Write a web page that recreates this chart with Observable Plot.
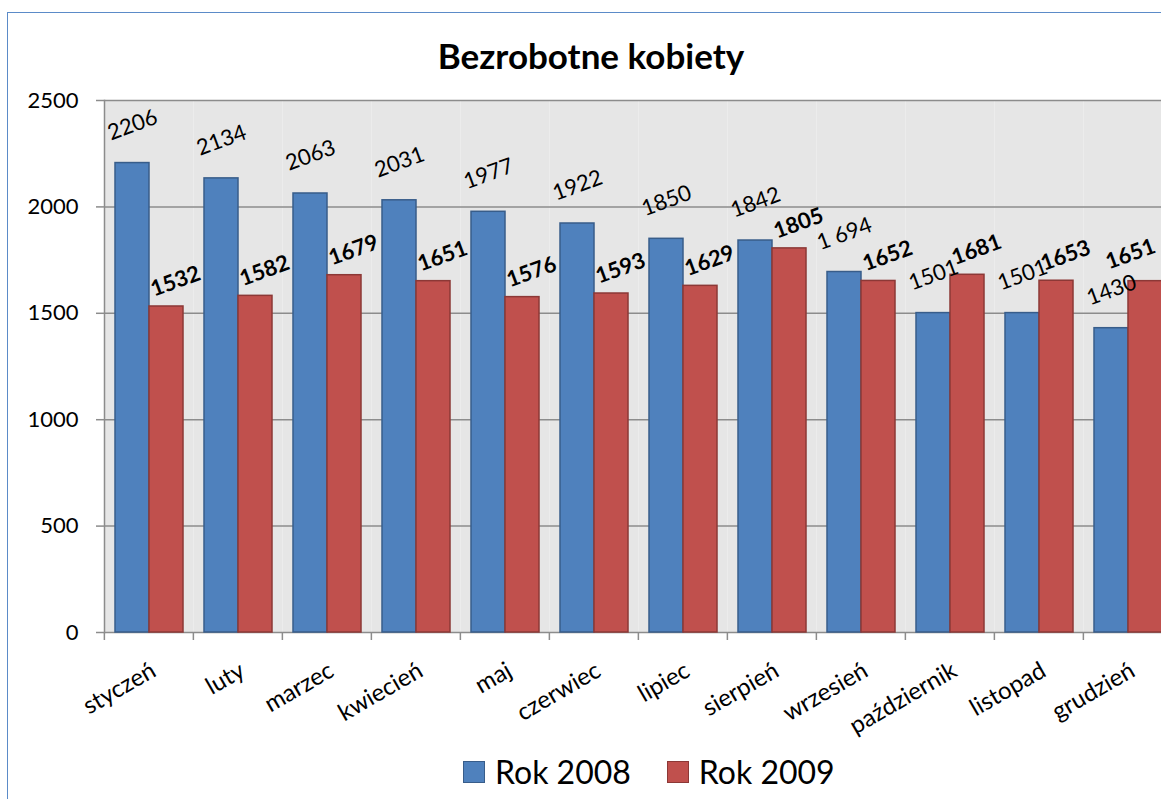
<!DOCTYPE html>
<html>
<head>
<meta charset="utf-8">
<script src="https://cdn.jsdelivr.net/npm/d3@7"></script>
<script src="https://cdn.jsdelivr.net/npm/@observablehq/plot@0.6"></script>
<style>
  html, body { margin: 0; padding: 0; overflow: hidden; background: #fff; width: 1161px; height: 799px; }
  #wrap { position: relative; width: 1161px; height: 799px; font-family: Lato, sans-serif; overflow: hidden; }
  #border { position: absolute; left: 7px; top: 12px; width: 1300px; height: 900px; border: 1px solid #5b8bc8; box-sizing: border-box; }
  #chart { position: absolute; left: 0; top: 0; width: 1200px; }
  #chart svg { max-width: none !important; }
  #title { position: absolute; left: 0; width: 1182px; top: 34px; text-align: center; font-weight: bold; font-size: 35px; color: #000; }
  #legend { position: absolute; left: 463px; top: 752px; display: flex; align-items: center; font-size: 32px; color: #000; }
  .sw { width: 22px; height: 22px; box-sizing: border-box; margin-right: 10px; }
  .item { display: flex; align-items: center; margin-right: 36px; }
</style>
</head>
<body>
<div id="wrap">
  <div id="border"></div>
  <div id="chart"></div>
  <div id="title">Bezrobotne kobiety</div>
  <div id="legend"></div>
</div>
<script>
const months = ["styczeń","luty","marzec","kwiecień","maj","czerwiec","lipiec","sierpień","wrzesień","październik","listopad","grudzień"];
const series = ["Rok 2008", "Rok 2009"];
const values2008 = [2206, 2134, 2063, 2031, 1977, 1922, 1850, 1842, 1694, 1501, 1501, 1430];
const values2009 = [1532, 1582, 1679, 1651, 1576, 1593, 1629, 1805, 1652, 1681, 1653, 1651];
const labels2008 = ["2206", "2134", "2063", "2031", "1977", "1922", "1850", "1842", "1 694", "1501", "1501", "1430"];
const labels2009 = ["1532", "1582", "1679", "1651", "1576", "1593", "1629", "1805", "1652", "1681", "1653", "1651"];
const yTicks = [0, 500, 1000, 1500, 2000, 2500];
const fills = ["#4f81bd", "#c0504d"];
const strokes = ["#385d8a", "#8c3836"];

const rows2008 = months.map((m, i) => ({month: m, series: series[0], value: values2008[i], label: labels2008[i]}));
const rows2009 = months.map((m, i) => ({month: m, series: series[1], value: values2009[i], label: labels2009[i]}));

const W = 1173, ML = 102, MR = 0;
const step = (W - ML - MR) / months.length;
const gridColor = "#8c8c8c";
const lastIndex = months.length - 1;

const chart = Plot.plot({
  width: W,
  height: 799,
  marginLeft: ML,
  marginRight: MR,
  marginTop: 100,
  marginBottom: 167,
  style: {fontFamily: "Lato, sans-serif", background: "transparent", overflow: "visible", color: "#000", maxWidth: "none"},
  fx: {domain: months, padding: 0, label: null},
  x: {domain: series, paddingInner: 0, paddingOuter: 0.275, axis: null},
  y: {domain: [0, 2500], axis: null},
  marks: [
    Plot.frame({fill: "#e6e6e6", stroke: null}),
    Plot.gridY(yTicks, {stroke: gridColor, strokeOpacity: 1, strokeWidth: 1.5}),
    Plot.frame({anchor: "left", facetAnchor: "left", stroke: gridColor, strokeWidth: 1.5}),
    Plot.barY(rows2008, {fx: "month", x: "series", y: "value", fill: fills[0], stroke: strokes[0], strokeWidth: 1.5}),
    Plot.barY(rows2009, {fx: "month", x: "series", y: "value", fill: fills[1], stroke: strokes[1], strokeWidth: 1.5}),
    Plot.text(rows2008, {fx: "month", x: "series", y: "value", text: "label", rotate: -20, dy: -38, fontSize: 22, fill: "#000"}),
    Plot.text(rows2009, {filter: (d, i) => i < lastIndex, fx: "month", x: "series", y: "value", text: "label", rotate: -20, dy: -25, dx: 9, fontSize: 22, fontWeight: "bold", fill: "#000"}),
    Plot.text(rows2009, {filter: (d, i) => i === lastIndex, fx: "month", x: "series", y: "value", text: "label", rotate: -20, dy: -27, dx: -15, fontSize: 22, fontWeight: "bold", fill: "#000"}),
    Plot.axisY(yTicks, {tickSize: 8, tickPadding: 18, fontSize: 22, tickFormat: d => String(d), stroke: gridColor, strokeWidth: 1.5, fill: "#000", label: null}),
    Plot.axisFx({anchor: "bottom", tickSize: 8, tickFormat: () => "", dx: -step / 2, stroke: gridColor, strokeWidth: 1.5, label: null}),
    Plot.axisFx({anchor: "bottom", tickSize: 0, tickPadding: 28, tickRotate: -30, textAnchor: "end", lineAnchor: "top", fontSize: 24, fill: "#000", label: null})
  ]
});
document.getElementById("chart").appendChild(chart);

const legend = document.getElementById("legend");
series.forEach((s, i) => {
  const item = document.createElement("div");
  item.className = "item";
  const sw = document.createElement("div");
  sw.className = "sw";
  sw.style.background = fills[i];
  sw.style.border = "1.5px solid " + strokes[i];
  const t = document.createElement("span");
  t.textContent = s;
  item.appendChild(sw);
  item.appendChild(t);
  legend.appendChild(item);
});
</script>
</body>
</html>
